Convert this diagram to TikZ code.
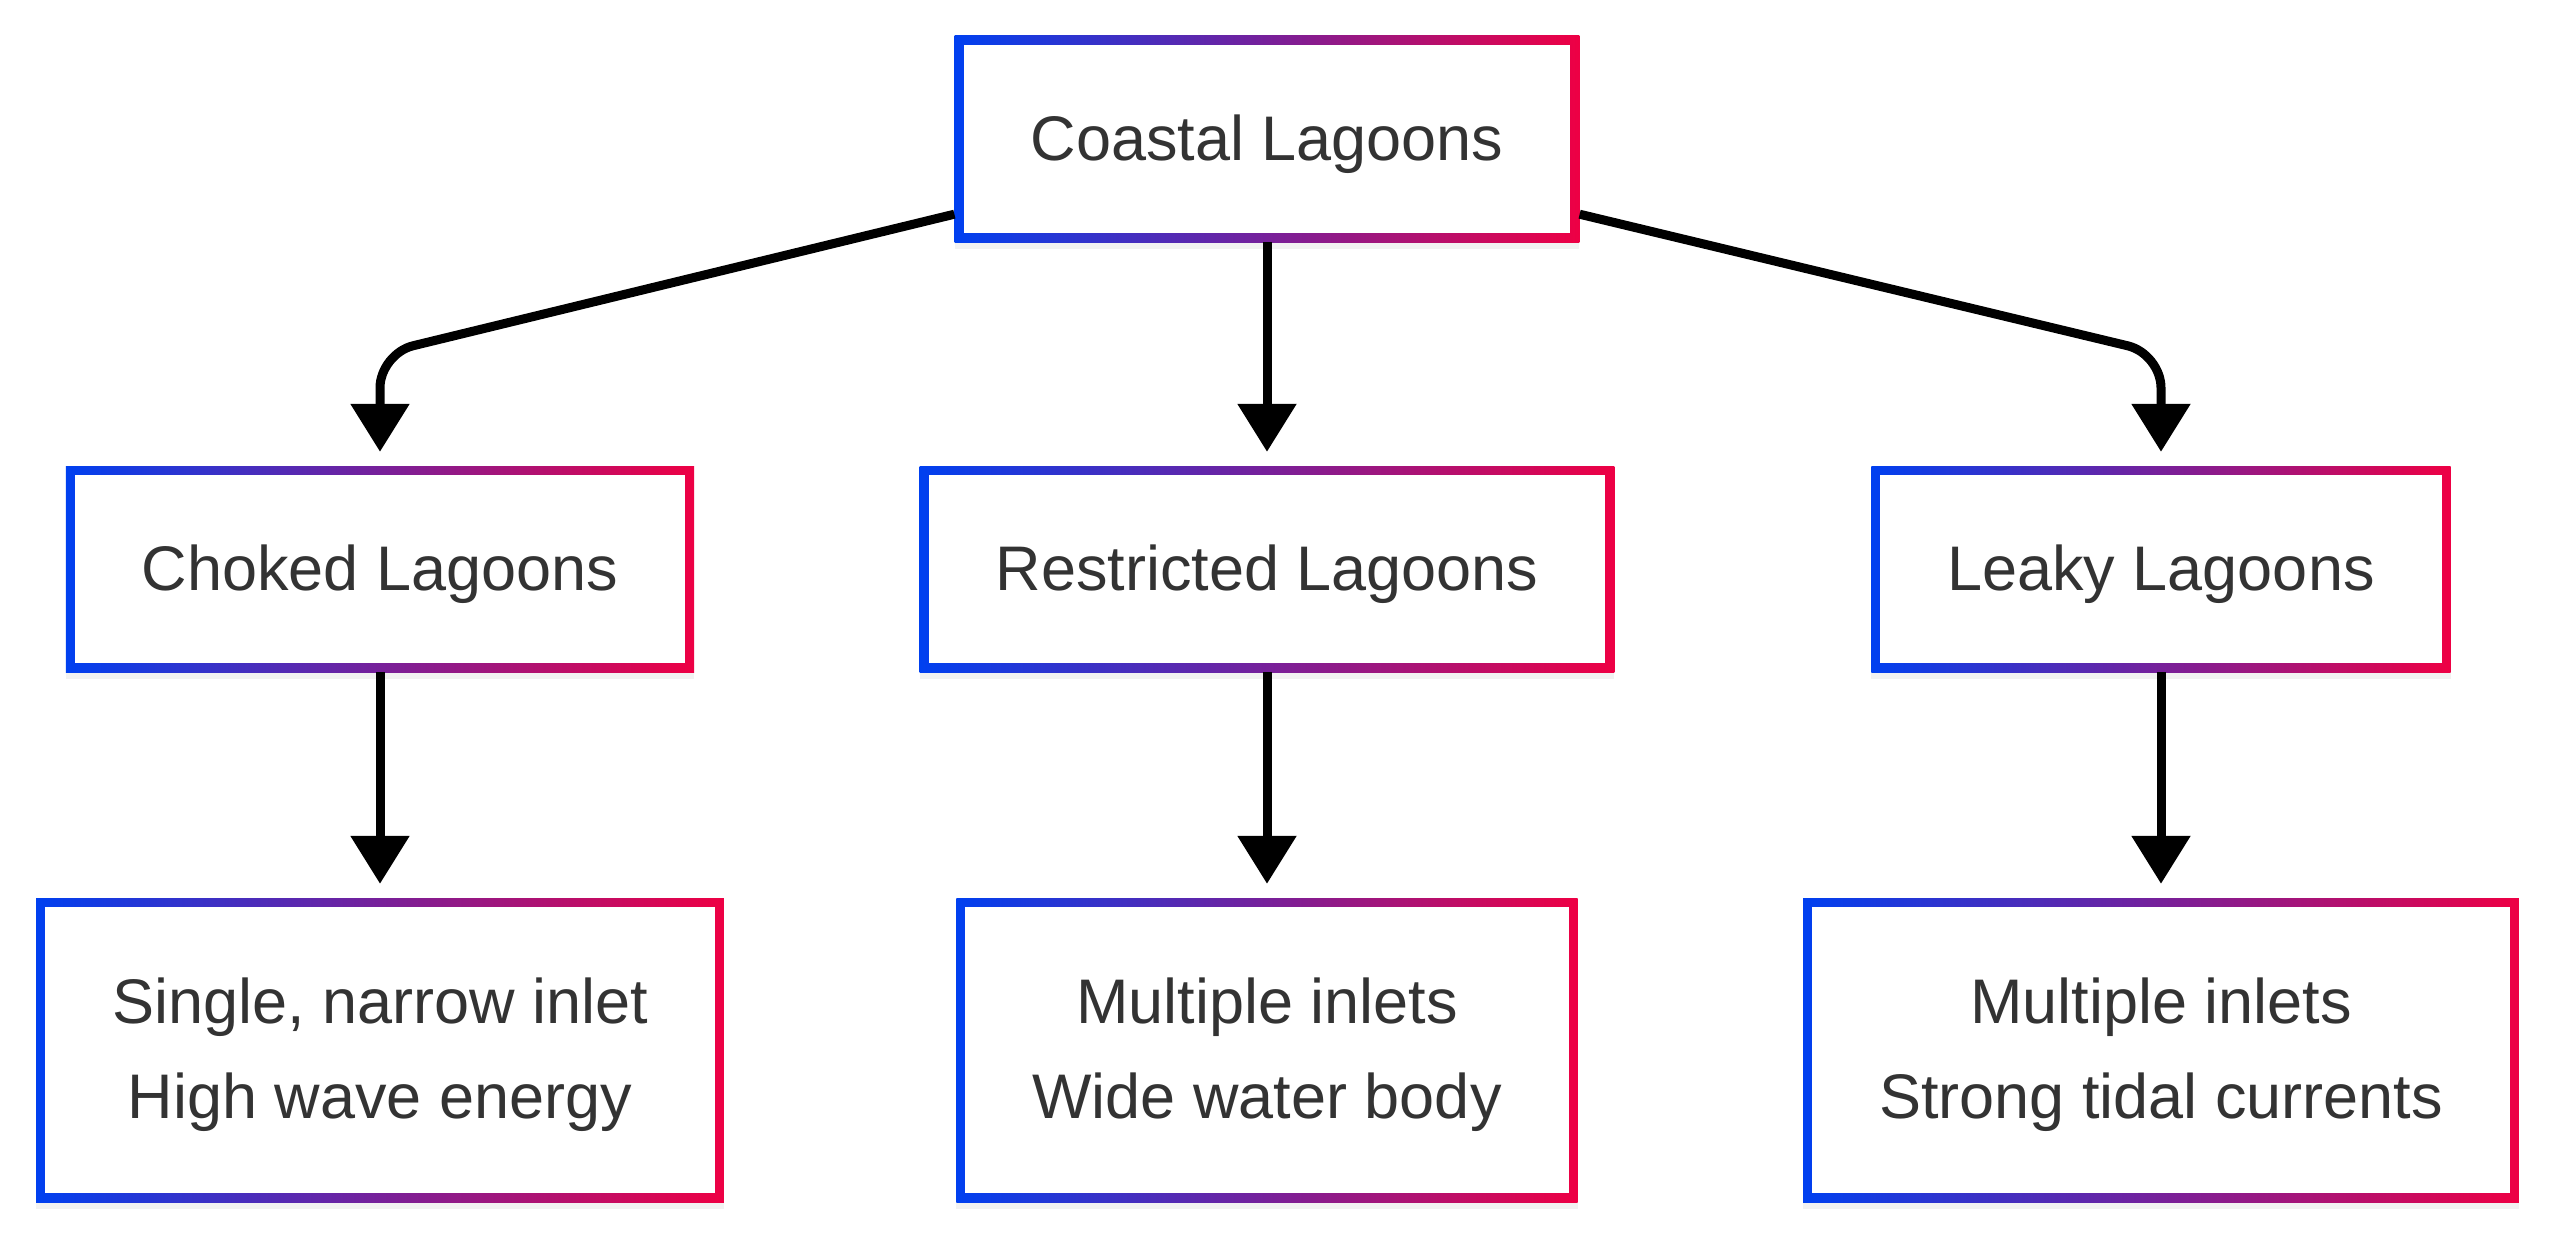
\documentclass[tikz,border=0pt]{standalone}
\usepackage{fontspec}
\setmainfont{Liberation Sans}
\usetikzlibrary{arrows.meta,positioning,shadows}
\definecolor{lagoonblue}{HTML}{0040F0}
\definecolor{lagoonred}{HTML}{EE0044}
\definecolor{lagoontext}{HTML}{333333}

\begin{document}
\begin{tikzpicture}[x=1pt,y=-1pt,>={Triangle[width=57pt,length=48pt]},on grid,
    lagoon/.style={left color=lagoonblue,right color=lagoonred,
        drop shadow={opacity=0.1,shadow xshift=0pt,shadow yshift=-7pt},
        path picture={\fill[white] ([xshift=9pt,yshift=-9pt]path picture bounding box.north west)
            rectangle ([xshift=-9pt,yshift=9pt]path picture bounding box.south east);},
        text=lagoontext,font=\fontsize{63}{95}\selectfont,align=center,
        inner xsep=76pt,minimum height=206pt,text depth=3pt},
    detail/.style={lagoon,minimum height=304pt},
    flow/.style={->,line width=9pt,rounded corners=34pt,shorten >=14pt}]
    \useasboundingbox (0,0) rectangle (2560,1239);
    \node[lagoon] (top) at (1267,139) {Coastal Lagoons};
    \node[lagoon] (restricted) [below=430pt of top] {Restricted Lagoons};
    \node[lagoon] (choked) [left=887pt of restricted] {Choked Lagoons};
    \node[lagoon] (leaky) [right=894pt of restricted] {Leaky Lagoons};
    \node[detail] (single) [below=481pt of choked] {Single, narrow inlet\\High wave energy};
    \node[detail] (wide) [below=481pt of restricted] {Multiple inlets\\Wide water body};
    \node[detail] (strong) [below=481pt of leaky] {Multiple inlets\\Strong tidal currents};

    \draw[flow] ([yshift=28pt]top.south west) -- ([yshift=112pt]choked.north) -- (choked.north);
    \draw[flow] (top.south) -- (restricted.north);
    \draw[flow] ([yshift=28pt]top.south east) -- ([yshift=112pt]leaky.north) -- (leaky.north);
    \draw[flow] (choked.south) -- (single.north);
    \draw[flow] (restricted.south) -- (wide.north);
    \draw[flow] (leaky.south) -- (strong.north);
\end{tikzpicture}
\end{document}
